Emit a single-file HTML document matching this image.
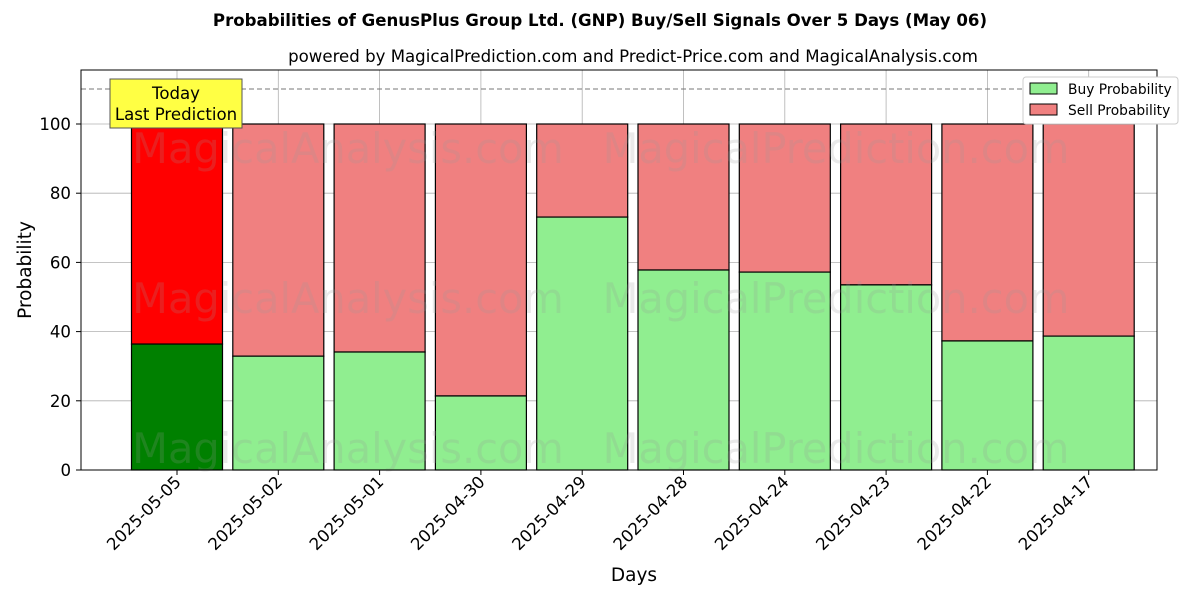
<!DOCTYPE html>
<html><head><meta charset="utf-8"><style>
body{margin:0;background:#fff;font-family:"DejaVu Sans","Liberation Sans",sans-serif}
</style></head><body>
<svg id="chart" width="1200" height="600" xmlns="http://www.w3.org/2000/svg" font-family="DejaVu Sans, Liberation Sans, sans-serif">
<rect width="1200" height="600" fill="#fff"/>
<text x="600" y="26" text-anchor="middle" font-size="16.6" font-weight="bold">Probabilities of GenusPlus Group Ltd. (GNP) Buy/Sell Signals Over 5 Days (May 06)</text>
<text x="633" y="62" text-anchor="middle" font-size="16.6">powered by MagicalPrediction.com and Predict-Price.com and MagicalAnalysis.com</text>
<g id="grid"></g>
<g id="bars"></g>
<g id="wm" font-size="41.5" fill="#999" opacity="0.2">
<text x="348" y="163" text-anchor="middle">MagicalAnalysis.com</text>
<text x="836" y="163" text-anchor="middle">MagicalPrediction.com</text>
<text x="348" y="313" text-anchor="middle">MagicalAnalysis.com</text>
<text x="836" y="313" text-anchor="middle">MagicalPrediction.com</text>
<text x="348" y="463" text-anchor="middle">MagicalAnalysis.com</text>
<text x="836" y="463" text-anchor="middle">MagicalPrediction.com</text>
</g>
<line x1="81" x2="1157" y1="89" y2="89" stroke="#777" stroke-dasharray="5,3"/>
<g id="axes"></g>
<rect x="81" y="70" width="1076" height="400" fill="none" stroke="#000"/>
<g>
<rect x="110" y="79" width="132" height="49" fill="#ffff44" stroke="#555"/>
<text x="176" y="99" text-anchor="middle" font-size="16.6">Today</text>
<text x="176" y="120" text-anchor="middle" font-size="16.6">Last Prediction</text>
</g>
<g>
<rect x="1023" y="77" width="155" height="47" fill="#fff" stroke="#ccc" rx="3"/>
<rect x="1030" y="83" width="27" height="11" fill="#90ee90" stroke="#000"/>
<text x="1068" y="94" font-size="13.8">Buy Probability</text>
<rect x="1030" y="104" width="27" height="11" fill="#f08080" stroke="#000"/>
<text x="1068" y="115" font-size="13.8">Sell Probability</text>
</g>
<text x="634" y="581" text-anchor="middle" font-size="18.5">Days</text>
<text transform="translate(31,270) rotate(-90)" text-anchor="middle" font-size="18.5">Probability</text>
</svg>
<script>
const categories=["2025-05-05","2025-05-02","2025-05-01","2025-04-30","2025-04-29","2025-04-28","2025-04-24","2025-04-23","2025-04-22","2025-04-17"];
const buyValues=[36.4,32.9,34.1,21.4,73.1,57.8,57.2,53.5,37.3,38.7];
const yTicks=[0,20,40,60,80,100];
const NS="http://www.w3.org/2000/svg";
const y=v=>470-v*3.46, x=i=>177+i*101.3, bw=91;
function mk(tag,attrs,parent){const e=document.createElementNS(NS,tag);for(const k in attrs)e.setAttribute(k,attrs[k]);document.getElementById(parent).appendChild(e);return e;}
yTicks.forEach(t=>{
 const g=mk("line",{x1:81,x2:1157,y1:y(t),y2:y(t),stroke:"#b0b0b0","stroke-width":0.8},"grid");
 
 
 mk("line",{x1:76,x2:81,y1:y(t),y2:y(t),stroke:"#000"},"axes");
 const tx=mk("text",{x:71,y:y(t)+6,"text-anchor":"end","font-size":16.6},"axes");tx.textContent=t;
 
 
});
categories.forEach((c,i)=>{
 const g=mk("line",{x1:x(i),x2:x(i),y1:70,y2:470,stroke:"#b0b0b0","stroke-width":0.8},"grid");
 
 
 const b=buyValues[i];
 const s=mk("rect",{x:x(i)-bw/2,y:y(100),width:bw,height:y(b)-y(100),fill:i==0?"#ff0000":"#f08080",stroke:"#000","stroke-width":1.2},"bars");
 
 
 const r=mk("rect",{x:x(i)-bw/2,y:y(b),width:bw,height:470-y(b),fill:i==0?"#008000":"#90ee90",stroke:"#000","stroke-width":1.2},"bars");
 
 
 mk("line",{x1:x(i),x2:x(i),y1:470,y2:475,stroke:"#000"},"axes");
 const tx=mk("text",{transform:`translate(${x(i)+5},${483}) rotate(-45)`,"text-anchor":"end","font-size":16.6},"axes");tx.textContent=c;
 
 
});
</script>
</body></html>
